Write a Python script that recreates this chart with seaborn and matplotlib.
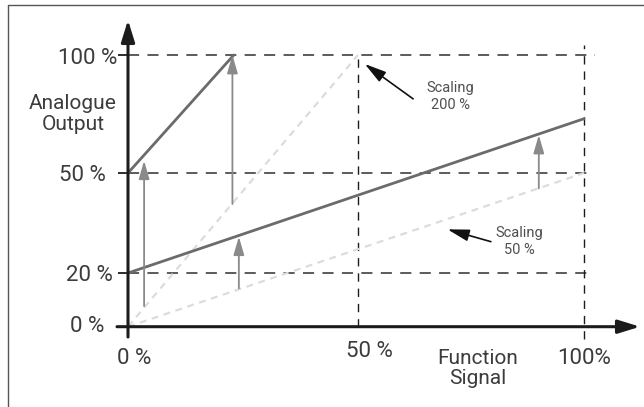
import numpy as np
import pandas as pd
import matplotlib
matplotlib.use("Agg")
import matplotlib.pyplot as plt
from matplotlib.lines import Line2D
from matplotlib.patches import ArrowStyle
from matplotlib.transforms import ScaledTranslation
import seaborn as sns

# ---- axis ticks (percent of range) ----
x_ticks = [0, 50, 100]
x_tick_labels = ["0 %", "50 %", "100%"]
y_ticks = [0, 20, 50, 100]
y_tick_labels = ["0 %", "20 %", "50 %", "100 %"]

# ---- scaled outputs (solid) and their unscaled references (light dashed) ----
scale200_x = [0, 23]
scale200_y = [50, 100]
ref200_x = [0, 50]
ref200_y = [0, 100]
scale50_x = [0, 100]
scale50_y = [20, 73]
ref50_x = [0, 100]
ref50_y = [0, 50]

# ---- offset shift arrows (x position, from, to) ----
shift_x = [3.5, 22.7, 24.1, 90]
shift_from = [7.7, 40.7, 14.3, 45.4]
shift_to = [55.2, 100, 30.9, 66.1]

# ---- callouts ----
callout_text = ["Scaling\n200 %", "Scaling\n50 %"]
callout_tip_x = [51.5, 69.8]
callout_tip_y = [96.2, 33.1]
callout_tail_x = [62.2, 79.4]
callout_tail_y = [81.4, 29.4]
callout_text_x = [70.4, 85.6]
callout_text_y = [82.4, 29.4]

W, H, DPI = 644, 407, 100

# schematic (piecewise-linear) axis layout in pixels
X_PCT, X_PX = [0, 50, 100], [128, 358, 584]
Y_PCT, Y_PX = [0, 20, 50, 100], [H - 326.7, H - 273, H - 173, H - 55]


def piecewise(src, dst):
    src = np.asarray(src, float)
    dst = np.asarray(dst, float)
    s0 = (dst[1] - dst[0]) / (src[1] - src[0])
    s1 = (dst[-1] - dst[-2]) / (src[-1] - src[-2])

    def f(v):
        v = np.asarray(v, float)
        out = np.interp(v, src, dst)
        out = np.where(v < src[0], dst[0] + (v - src[0]) * s0, out)
        out = np.where(v > src[-1], dst[-1] + (v - src[-1]) * s1, out)
        return out
    return f


fx, fx_inv = piecewise(X_PCT, X_PX), piecewise(X_PX, X_PCT)
fy, fy_inv = piecewise(Y_PCT, Y_PX), piecewise(Y_PX, Y_PCT)


def px_x(p):
    return float(fx_inv(p))


def px_y(p):
    return float(fy_inv(H - p))


sns.set_theme(style="white")
plt.rcParams["font.family"] = ["Roboto", "DejaVu Sans"]
plt.rcParams["lines.scale_dashes"] = False

fig = plt.figure(figsize=(W / DPI, H / DPI), dpi=DPI)
ax = fig.add_axes([0, 0, 1, 1])
ax.set_xscale("function", functions=(fx, fx_inv))
ax.set_yscale("function", functions=(fy, fy_inv))
ax.set_xlim(px_x(0), px_x(W))
ax.set_ylim(px_y(H), px_y(0))
ax.patch.set_alpha(0)

for side in ["left", "bottom"]:
    ax.spines[side].set_position(("data", 0))
    ax.spines[side].set_visible(False)
for side in ["top", "right"]:
    ax.spines[side].set_visible(False)

DARK = "#1c1c1c"
GRID = "#404040"
SOLID = "#6b6b6b"
LIGHT = "#dcdcdc"
SHIFT = "#8a8a8a"
TEXT = "#3c3c3c"

# reference grid
for yv in y_ticks[1:]:
    ax.plot([0, px_x(593 if yv < 100 else 595)], [yv, yv], color=GRID, lw=1.2,
            linestyle=(0, (8, 6)), zorder=1)
ax.plot([50, 50], [0, 100], color=DARK, lw=1.0, linestyle=(0, (6, 5)), zorder=1)
ax.plot([100, 100], [px_y(339), px_y(45)], color=DARK, lw=1.0,
        linestyle=(0, (6, 5)), zorder=1)

# unscaled references
for xs, ys in [(ref200_x, ref200_y), (ref50_x, ref50_y)]:
    sns.lineplot(x=xs, y=ys, ax=ax, color=LIGHT, lw=1.6,
                 linestyle=(0, (5, 4)), zorder=2)

# scaled outputs
for xs, ys in [(scale200_x, scale200_y), (scale50_x, scale50_y)]:
    sns.lineplot(x=xs, y=ys, ax=ax, color=SOLID, lw=2.0, zorder=3)

# offset shift arrows
for xv, y0, y1 in zip(shift_x, shift_from, shift_to):
    ax.annotate("", xy=(xv, y1), xytext=(xv, y0),
                arrowprops=dict(arrowstyle=ArrowStyle("-|>", head_length=0.55, head_width=0.16),
                                mutation_scale=20, color=SHIFT, lw=1.3,
                                shrinkA=0, shrinkB=0), zorder=4)

# axes with arrow heads
axis_style = ArrowStyle("-|>", head_length=0.55, head_width=0.17)
ax.annotate("", xy=(px_x(640), 0), xytext=(px_x(117), 0),
            arrowprops=dict(arrowstyle=axis_style, mutation_scale=24, color=DARK,
                            lw=2.2, shrinkA=0, shrinkB=0), zorder=5)
ax.annotate("", xy=(0, px_y(20)), xytext=(0, px_y(337)),
            arrowprops=dict(arrowstyle=axis_style, mutation_scale=24, color=DARK,
                            lw=2.2, shrinkA=0, shrinkB=0), zorder=5)

# callouts
for txt, tx, ty, ax0, ay0, ax1, ay1 in zip(callout_text, callout_text_x, callout_text_y,
                                           callout_tail_x, callout_tail_y,
                                           callout_tip_x, callout_tip_y):
    ax.annotate("", xy=(ax1, ay1), xytext=(ax0, ay0),
                arrowprops=dict(arrowstyle=ArrowStyle("-|>", head_length=0.55, head_width=0.15),
                                mutation_scale=24, color="#111111", lw=1.2,
                                shrinkA=0, shrinkB=0), zorder=5)
    ax.text(tx, ty, txt, ha="center", va="center", fontsize=10.5, color="#505050",
            linespacing=1.3)

# ticks
ax.set_xticks(x_ticks, x_tick_labels)
ax.set_yticks(y_ticks, y_tick_labels)
ax.tick_params(axis="y", left=True, direction="out", length=7, width=1.3,
               color=DARK, pad=1, labelsize=16, labelcolor=TEXT)
ax.tick_params(axis="x", bottom=True, length=0, pad=15, labelsize=16,
               labelcolor=TEXT)
ax.minorticks_off()

x_nudge = [(6, 0), (11, 7), (0, 0)]
y_nudge = [(-12.5, 3), (-4.5, 0), (-11, 0), (0, -1)]
for lab, (dx, dy) in zip(ax.get_xticklabels(), x_nudge):
    lab.set_transform(lab.get_transform() + ScaledTranslation(dx / DPI, dy / DPI, fig.dpi_scale_trans))
for lab, (dx, dy) in zip(ax.get_yticklabels(), y_nudge):
    lab.set_transform(lab.get_transform() + ScaledTranslation(dx / DPI, dy / DPI, fig.dpi_scale_trans))

# axis titles
fig.text(73 / W, 1 - 114 / H, "Analogue\nOutput", ha="center", va="center",
         fontsize=15, color=TEXT, linespacing=1.1)
fig.text(478 / W, 1 - 368.5 / H, "Function\nSignal", ha="center", va="center",
         fontsize=15, color=TEXT, linespacing=1.05)

# frame
fig.add_artist(Line2D([8 / W, 8 / W], [0, 1 - 5 / H], color="#555555", lw=1.0))
fig.add_artist(Line2D([8 / W, 1], [1 - 5 / H, 1 - 5 / H], color="#555555", lw=1.0))

fig.savefig("out.png", dpi=DPI)
